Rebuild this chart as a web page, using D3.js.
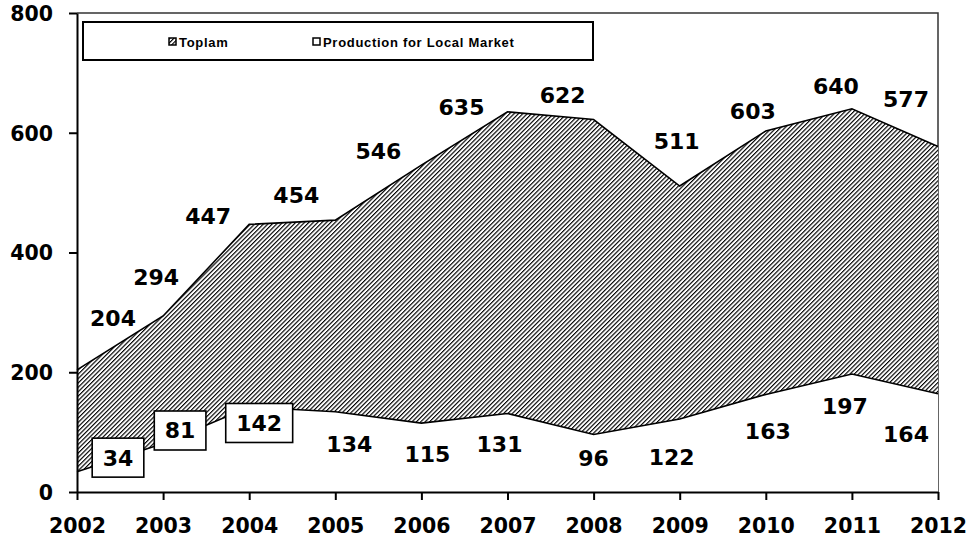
<!DOCTYPE html>
<html>
<head>
<meta charset="UTF-8">
<title>Toplam / Production for Local Market</title>
<script src="https://d3js.org/d3.v7.min.js"></script>
<style>
html, body { margin: 0; padding: 0; background: #fff; }
svg { display: block; font-family: 'DejaVu Sans', Verdana, sans-serif; }
</style>
</head>
<body>
<script>
// data
var years = [2002, 2003, 2004, 2005, 2006, 2007, 2008, 2009, 2010, 2011, 2012];
var toplam = [204, 294, 447, 454, 546, 635, 622, 511, 603, 640, 577];
var localMarket = [34, 81, 142, 134, 115, 131, 96, 122, 163, 197, 164];
var yTicks = [0, 200, 400, 600, 800];
var seriesNames = ["Toplam", "Production for Local Market"];

// hand placed label offsets (px from the point), like the original
var toplamLabelOff = [[36,-52],[-7,-39],[-41,-8],[-39,-25],[-43,-14],[-46,-5],[-31,-24],[-3,-45],[-13,-20],[-16,-23],[-32,-47]];
var localLabelOff = [[41,-14],[17,-13],[10,16],[14,32],[6,31],[-8,31],[0,24],[-8,38],[2,37],[-7,32],[-32,40]];
var boxedLabels = 3; // first three local labels sit in a box

var W = 976, H = 542;
var svg = d3.select("body").append("svg")
    .attr("width", W)
    .attr("height", H);

var x = d3.scaleLinear().domain([2002, 2012]).range([77, 938]);
var y = d3.scaleLinear().domain([0, 800]).range([492, 13]);

var defs = svg.append("defs");
var pat = defs.append("pattern")
    .attr("id", "hatch")
    .attr("patternUnits", "userSpaceOnUse")
    .attr("width", 3.1)
    .attr("height", 3.1)
    .attr("patternTransform", "rotate(45)");
pat.append("rect").attr("width", 3.1).attr("height", 3.1).attr("fill", "#fff");
pat.append("rect").attr("width", 1.15).attr("height", 3.1).attr("fill", "#000");

var rows = years.map(function (yr, i) {
    return {year: yr, total: toplam[i], local: localMarket[i]};
});

// plot border (top & right)
svg.append("path")
    .attr("d", "M" + x(2002) + "," + y(800) + "H" + x(2012) + "V" + y(0))
    .attr("fill", "none")
    .attr("stroke", "#333")
    .attr("stroke-width", 1.5);

var areaTotal = d3.area()
    .x(function (d) { return x(d.year); })
    .y0(y(0))
    .y1(function (d) { return y(d.total); });
var areaLocal = d3.area()
    .x(function (d) { return x(d.year); })
    .y0(y(0))
    .y1(function (d) { return y(d.local); });

svg.append("path").datum(rows)
    .attr("d", areaTotal)
    .attr("fill", "url(#hatch)");
svg.append("path").datum(rows)
    .attr("d", areaTotal.lineY1())
    .attr("fill", "none")
    .attr("stroke", "#000")
    .attr("stroke-width", 1.6);

svg.append("path").datum(rows)
    .attr("d", areaLocal)
    .attr("fill", "#fff");
svg.append("path").datum(rows)
    .attr("d", areaLocal.lineY1())
    .attr("fill", "none")
    .attr("stroke", "#000")
    .attr("stroke-width", 1.6);

// axes
var yAxis = svg.append("g")
    .attr("transform", "translate(" + x(2002) + ",0)")
    .call(d3.axisLeft(y).tickValues(yTicks).tickSize(8).tickSizeOuter(0).tickPadding(16));
var xAxis = svg.append("g")
    .attr("transform", "translate(0," + y(0) + ")")
    .call(d3.axisBottom(x).tickValues(years).tickFormat(d3.format("d")).tickSize(8).tickSizeOuter(0));

[yAxis, xAxis].forEach(function (g) {
    g.select(".domain").attr("stroke", "#000").attr("stroke-width", 2);
    g.selectAll(".tick line").attr("stroke", "#000").attr("stroke-width", 2);
    g.selectAll("text")
        .attr("fill", "#000")
        .style("font-family", "'DejaVu Sans', Verdana, sans-serif")
        .style("font-weight", "bold")
        .style("font-size", "20.5px");
});
yAxis.selectAll("text").attr("dy", "0.36em");
xAxis.selectAll("text").attr("y", 41).attr("dy", 0);

// data labels
var lbl = svg.append("g")
    .style("font-weight", "bold")
    .style("font-size", "22px")
    .attr("text-anchor", "middle")
    .attr("fill", "#000");

lbl.selectAll("text.tot")
    .data(rows)
    .join("text")
    .attr("class", "tot")
    .attr("x", function (d, i) { return x(d.year) + toplamLabelOff[i][0]; })
    .attr("y", function (d, i) { return y(d.total) + toplamLabelOff[i][1]; })
    .attr("dy", "0.36em")
    .text(function (d) { return d.total; });

var locG = lbl.selectAll("g.loc")
    .data(rows)
    .join("g")
    .attr("class", "loc")
    .attr("transform", function (d, i) {
        return "translate(" + (x(d.year) + localLabelOff[i][0]) + "," + (y(d.local) + localLabelOff[i][1]) + ")";
    });
locG.append("text")
    .attr("dy", "0.36em")
    .text(function (d) { return d.local; });
locG.filter(function (d, i) { return i < boxedLabels; })
    .insert("rect", "text")
    .each(function () {
        var bb = this.parentNode.querySelector("text").getBBox();
        d3.select(this)
            .attr("x", -bb.width / 2 - 10.5)
            .attr("y", -19.5)
            .attr("width", bb.width + 21)
            .attr("height", 39)
            .attr("fill", "#fff")
            .attr("stroke", "#000")
            .attr("stroke-width", 1.6);
    });

// legend
var leg = svg.append("g");
leg.append("rect")
    .attr("x", 83).attr("y", 22)
    .attr("width", 510).attr("height", 38)
    .attr("fill", "#fff")
    .attr("stroke", "#000")
    .attr("stroke-width", 2);

var legX = [169, 313];
var legItems = leg.selectAll("g.item")
    .data(seriesNames)
    .join("g")
    .attr("class", "item")
    .attr("transform", function (d, i) { return "translate(" + legX[i] + ",38)"; });
legItems.append("rect")
    .attr("width", 7).attr("height", 7)
    .attr("fill", function (d, i) { return i === 0 ? "url(#hatch)" : "#fff"; })
    .attr("stroke", "#000")
    .attr("stroke-width", 1.5);
legItems.append("text")
    .attr("x", 10)
    .attr("y", 9)
    .style("font-family", "'Liberation Sans', Arial, sans-serif")
    .style("font-weight", "bold")
    .style("font-size", "13px")
    .style("letter-spacing", "0.7px")
    .text(function (d) { return d; });
</script>
</body>
</html>
